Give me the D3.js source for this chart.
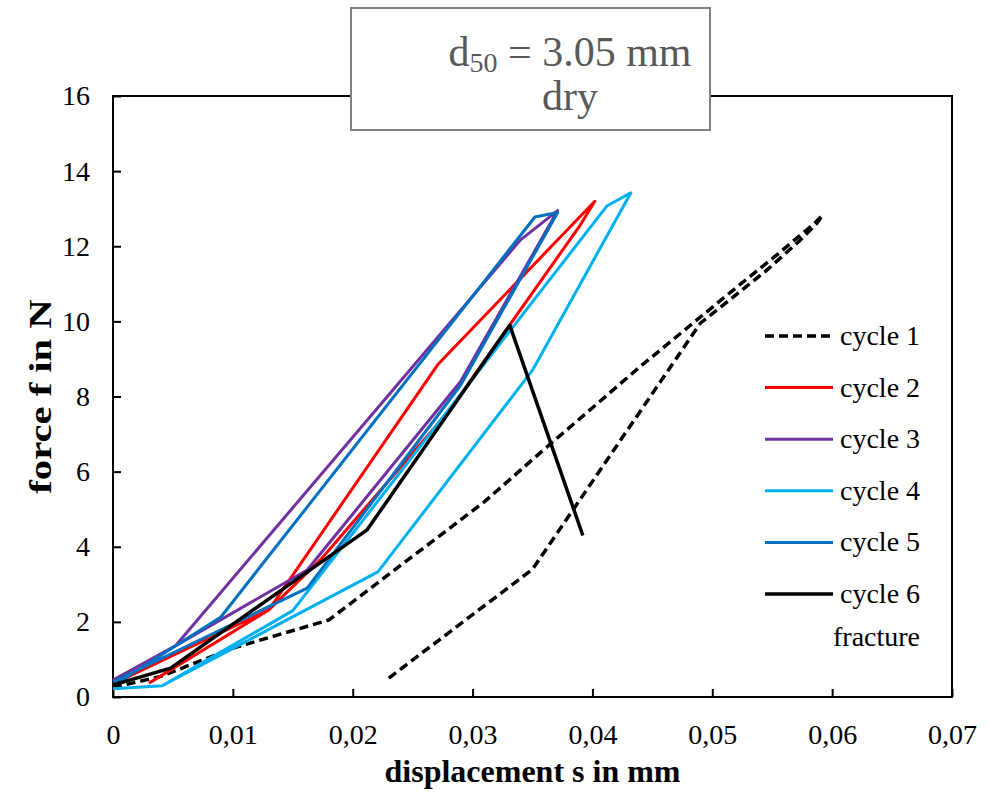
<!DOCTYPE html>
<html>
<head>
<meta charset="utf-8">
<script src="https://cdn.jsdelivr.net/npm/d3@7/dist/d3.min.js"></script>
<style>
  body { margin: 0; background: #fff; }
  svg text { font-family: "Liberation Serif", "Times New Roman", serif; }
</style>
</head>
<body>
<div id="chart"></div>
<script>
var xTicks = [0, 0.01, 0.02, 0.03, 0.04, 0.05, 0.06, 0.07];
var yTicks = [0, 2, 4, 6, 8, 10, 12, 14, 16];

// [displacement s in mm, force f in N]
var cycle1 = [[0, 0.25], [0.004, 0.55], [0.010, 1.3], [0.018, 2.05], [0.031, 5.2],
  [0.036, 6.6], [0.044, 8.8], [0.048, 9.85], [0.052, 10.9], [0.0555, 11.8],
  [0.0585, 12.6], [0.0592, 12.83], [0.0587, 12.6], [0.0573, 12.15], [0.0545, 11.35],
  [0.049, 9.95], [0.035, 3.4], [0.023, 0.5]];
var cycle2 = [[0.003, 0.37], [0.013, 2.32], [0.0173, 3.65], [0.028, 7.6], [0.039, 12.57],
  [0.0402, 13.2], [0.0271, 8.85], [0.013, 2.32], [0, 0.35]];
var cycle3 = [[0, 0.45], [0.0052, 1.36], [0.034, 12.17], [0.0371, 12.95], [0.029, 8.4],
  [0.0162, 3.38], [0.0052, 1.36]];
var cycle4 = [[0, 0.22], [0.0041, 0.3], [0.0221, 3.33], [0.035, 8.7], [0.0432, 13.42],
  [0.0412, 13.07], [0.015, 2.3], [0.0041, 0.3]];
var cycle5 = [[0, 0.3], [0.009, 2.13], [0.0352, 12.78], [0.0371, 12.9], [0.029, 8.3],
  [0.0162, 2.9], [0, 0.4]];
var cycle6 = [[0, 0.32], [0.0048, 0.77], [0.0212, 4.45], [0.0331, 9.9], [0.0392, 4.3]];

var seriesNames = ['cycle 1', 'cycle 2', 'cycle 3', 'cycle 4', 'cycle 5', 'cycle 6'];
var seriesColors = ['#000000', '#ff0000', '#7030a0', '#00b0f0', '#0070c0', '#000000'];
var seriesDash = ['9,5', null, null, null, null, null];
var seriesWidth = [3.5, 3, 3, 3, 3, 3.5];
var seriesData = [cycle1, cycle2, cycle3, cycle4, cycle5, cycle6];

var width = 996,
    height = 794,
    plot = { left: 113, right: 952, top: 96, bottom: 697 };

var svg = d3.select('#chart')
    .append('svg')
    .attr('width', width)
    .attr('height', height);

var x = d3.scaleLinear().domain([0, 0.07]).range([plot.left, plot.right]);
var y = d3.scaleLinear().domain([0, 16]).range([plot.bottom, plot.top]);

// plot frame
svg.append('rect')
    .attr('x', plot.left)
    .attr('y', plot.top)
    .attr('width', plot.right - plot.left)
    .attr('height', plot.bottom - plot.top)
    .attr('fill', 'none')
    .attr('stroke', '#000')
    .attr('stroke-width', 2);

var xAxis = svg.append('g')
    .attr('transform', 'translate(0,' + plot.bottom + ')')
    .call(d3.axisBottom(x)
      .tickValues(xTicks)
      .tickSizeInner(-8)
      .tickSizeOuter(0)
      .tickPadding(27)
      .tickFormat(function (d) { return d === 0 ? '0' : d.toFixed(2).replace('.', ','); }));

var yAxis = svg.append('g')
    .attr('transform', 'translate(' + plot.left + ',0)')
    .call(d3.axisLeft(y)
      .tickValues(yTicks)
      .tickSizeInner(-8)
      .tickSizeOuter(0)
      .tickPadding(23));

[xAxis, yAxis].forEach(function (g) {
  g.select('.domain').remove();
  g.selectAll('.tick line').attr('stroke', '#000').attr('stroke-width', 2);
  g.selectAll('.tick text')
      .attr('fill', '#000')
      .style('font-family', '"Liberation Serif", serif')
      .style('font-size', '28px');
});

// series
var line = d3.line()
    .x(function (d) { return x(d[0]); })
    .y(function (d) { return y(d[1]); });

svg.append('g').classed('series', true)
    .selectAll('path')
    .data(seriesData)
    .enter()
    .append('path')
    .attr('d', line)
    .attr('fill', 'none')
    .attr('stroke', function (d, i) { return seriesColors[i]; })
    .attr('stroke-width', function (d, i) { return seriesWidth[i]; })
    .attr('stroke-linejoin', 'round')
    .attr('stroke-dasharray', function (d, i) { return seriesDash[i]; });

// legend
var legend = svg.append('g').classed('legend', true)
    .selectAll('g')
    .data(seriesNames)
    .enter()
    .append('g')
    .attr('transform', function (d, i) { return 'translate(0,' + (336 + i * 51.6) + ')'; });
legend.append('line')
    .attr('x1', 765)
    .attr('x2', 833)
    .attr('stroke', function (d, i) { return seriesColors[i]; })
    .attr('stroke-width', function (d, i) { return seriesWidth[i]; })
    .attr('stroke-dasharray', function (d, i) { return seriesDash[i]; });
legend.append('text')
    .attr('x', 840)
    .attr('y', 9)
    .style('font-size', '28px')
    .text(function (d) { return d; });

svg.append('text')
    .attr('x', 833)
    .attr('y', 646)
    .style('font-size', '28px')
    .text('fracture');

// axis titles
svg.append('text')
    .attr('x', (plot.left + plot.right) / 2)
    .attr('y', 782)
    .attr('text-anchor', 'middle')
    .style('font-size', '32px')
    .style('font-weight', 'bold')
    .text('displacement s in mm');

// the y title in the picture is stretched along its length
svg.append('text')
    .attr('transform', 'translate(51,' + (plot.top + plot.bottom) / 2 + ') rotate(-90) scale(1.27,1)')
    .attr('text-anchor', 'middle')
    .style('font-size', '32px')
    .style('font-weight', 'bold')
    .text('force f in N');

// title box
svg.append('rect')
    .attr('x', 351)
    .attr('y', 8)
    .attr('width', 359)
    .attr('height', 122)
    .attr('fill', '#fff')
    .attr('stroke', '#808080')
    .attr('stroke-width', 2);

var title = svg.append('text')
    .attr('x', 570)
    .attr('y', 66)
    .attr('text-anchor', 'middle')
    .attr('fill', '#595959')
    .style('font-size', '42px');
title.append('tspan').text('d');
title.append('tspan')
    .attr('dy', 6)
    .style('font-size', '28px')
    .text('50');
title.append('tspan')
    .attr('dy', -6)
    .text(' = 3.05 mm');

svg.append('text')
    .attr('x', 570)
    .attr('y', 110)
    .attr('text-anchor', 'middle')
    .attr('fill', '#595959')
    .style('font-size', '42px')
    .text('dry');
</script>
</body>
</html>
